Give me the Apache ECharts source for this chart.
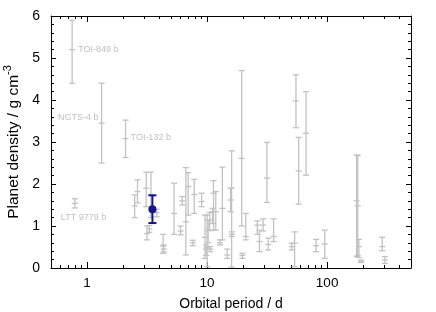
<!DOCTYPE html>
<html><head><meta charset="utf-8">
<script src="https://cdn.jsdelivr.net/npm/echarts@6/dist/echarts.min.js"></script>
<style>html,body{margin:0;padding:0;background:#fff}#c{width:436px;height:312px}</style>
</head><body><div id="c"></div>
<script>
// Orbital periods (d) of comparison planets
const periods   = [0.75, 1.32, 2.09, 0.79, 2.49, 2.63, 3.11, 3.4, 3.15, 3.3, 3.8, 4.3, 4.35, 5.3, 6.0, 6.2, 6.65, 6.95, 7.6, 7.8,
                   9.0, 9.6, 9.8, 10.0, 10.2, 10.5, 10.6, 11.1, 11.3, 11.8, 12.8, 13.4, 14.7, 15.7, 16.0, 16.1, 19.4, 19.7, 21.0, 26.2,
                   27.3, 29.3, 31.5, 32.3, 35.8, 50.8, 53.6, 55, 57.9, 66.7, 81, 95.5, 176, 180, 184, 192, 288, 303];
// Densities (g cm^-3)
const densities = [5.2, 3.45, 3.08, 1.54, 1.48, 1.82, 1.9, 1.75, 0.82, 0.93, 1.32, 0.52, 0.45, 1.3, 0.88, 1.6, 1.1, 1.94, 0.6, 1.75,
                   1.58, 0.73, 0.45, 0.49, 0.9, 1.14, 0.45, 1.34, 1.78, 1.34, 0.6, 1.42, 0.31, 1.62, 1.9, 0.8, 2.61, 0.3, 0.75, 1.02,
                   0.63, 1.02, 2.14, 0.56, 0.75, 0.51, 0.59, 3.98, 2.31, 3.21, 0.53, 0.57, 1.6, 1.48, 0.51, 0.16, 0.51, 0.19];
const densLow   = [4.4, 2.5, 2.63, 1.43, 1.2, 1.55, 1.46, 1.2, 0.67, 0.85, 1.22, 0.35, 0.38, 0.8, 0.79, 1.5, 0.31, 1.26, 0.53, 1.3,
                   1.46, 0.23, 0.3, 0.03, 0.6, 0.89, 0.39, 1.06, 0.9, 0.9, 0.55, 0.67, 0.23, 1.34, 0.02, 0.75, 1.0, 0.23, 0.67, 0.8,
                   0.39, 0.88, 1.56, 0.43, 0.63, 0.43, 0.03, 3.34, 1.52, 2.21, 0.39, 0.23, 0.27, 0.3, 0.25, 0.13, 0.41, 0.11];
const densHigh  = [5.9, 4.4, 3.52, 1.65, 1.74, 2.1, 2.28, 2.28, 1.0, 1.01, 1.4, 0.8, 0.55, 2.02, 1.0, 1.7, 2.39, 2.27, 0.66, 2.11,
                   1.78, 1.26, 0.55, 1.26, 1.14, 1.32, 0.51, 1.42, 2.08, 1.82, 0.67, 2.4, 0.45, 1.9, 2.79, 0.86, 4.7, 0.35, 1.3, 1.12,
                   0.9, 1.17, 2.99, 0.71, 1.17, 0.59, 0.86, 4.6, 3.11, 4.2, 0.68, 0.9, 2.69, 2.68, 0.68, 0.19, 0.73, 0.27];
// Named planets (index into the arrays above)
const labelNames = ['TOI-849 b', 'NGTS-4 b', 'TOI-132 b', 'LTT 9779 b'];
const labelIndex = [0, 1, 2, 3];
// Highlighted planet
const targetPeriod = [3.5];
const targetDensity = [1.40];
const targetLow = [1.07];
const targetHigh = [1.73];
// Axis ticks
const xMajorTicks = [1, 10, 100];
const xMinorTicks = [0.5, 0.6, 0.7, 0.8, 0.9, 2, 3, 4, 5, 6, 7, 8, 9, 20, 30, 40, 50, 60, 70, 80, 90, 200, 300, 400, 500];

const labelPlacement = [
  {dx: 6, dy: 0, align: 'left'},
  {dx: -3, dy: -6, align: 'right'},
  {dx: 5, dy: -1, align: 'left'},
  {dx: -14, dy: 14, align: 'left'}
];

const grayData = periods.map((p, i) => [p, densities[i], densLow[i], densHigh[i]]);
const blueData = targetPeriod.map((p, i) => [p, targetDensity[i], targetLow[i], targetHigh[i]]);
const labelData = labelIndex.map((k, i) => [periods[k], densities[k], i]);

function errRender(color, lw, capHalf, centerDash) {
  return function (params, api) {
    const x = api.value(0), y = api.value(1), lo = api.value(2), hi = api.value(3);
    const pc = api.coord([x, y]), pl = api.coord([x, lo]), ph = api.coord([x, hi]);
    const style = {stroke: color, lineWidth: lw, fill: null};
    const ch = [
      {type: 'line', shape: {x1: pl[0], y1: pl[1], x2: ph[0], y2: ph[1]}, style},
      {type: 'line', shape: {x1: pl[0] - capHalf, y1: pl[1], x2: pl[0] + capHalf, y2: pl[1]}, style},
      {type: 'line', shape: {x1: ph[0] - capHalf, y1: ph[1], x2: ph[0] + capHalf, y2: ph[1]}, style}
    ];
    if (centerDash) ch.push({type: 'line', shape: {x1: pc[0] - capHalf, y1: pc[1], x2: pc[0] + capHalf, y2: pc[1]}, style});
    return {type: 'group', children: ch};
  };
}

const font = 'Liberation Sans, Arial, Helvetica, sans-serif';
const logAxisBase = {type: 'log', logBase: 10, min: 0.5, max: 500, gridIndex: 0, splitLine: {show: false}};

const chart = echarts.init(document.getElementById('c'), null, {renderer: 'canvas'});
chart.setOption({
  animation: false,
  backgroundColor: '#fff',
  grid: {left: 51, right: 25, top: 16, bottom: 44, containLabel: false, outerBoundsMode: 'none'},
  xAxis: [
    Object.assign({}, logAxisBase, {
      position: 'bottom',
      axisLine: {show: true, onZero: false, lineStyle: {color: '#000', width: 1}},
      axisTick: {show: true, inside: true, length: 6, customValues: xMajorTicks, lineStyle: {color: '#000'}},
      axisLabel: {show: true, customValues: xMajorTicks, color: '#000', fontSize: 13.5, fontFamily: font, margin: 8,
                  formatter: v => String(Math.round(v))},
      name: 'Orbital period / d', nameLocation: 'middle', nameGap: 29,
      nameTextStyle: {color: '#000', fontSize: 14, fontFamily: font}
    }),
    Object.assign({}, logAxisBase, {
      position: 'bottom',
      axisLine: {show: false, onZero: false},
      axisTick: {show: true, inside: true, length: 3, customValues: xMinorTicks, lineStyle: {color: '#000'}},
      axisLabel: {show: false}
    }),
    Object.assign({}, logAxisBase, {
      position: 'top',
      axisLine: {show: true, onZero: false, lineStyle: {color: '#000', width: 1}},
      axisTick: {show: true, inside: true, length: 6, customValues: xMajorTicks, lineStyle: {color: '#000'}},
      axisLabel: {show: false}
    }),
    Object.assign({}, logAxisBase, {
      position: 'top',
      axisLine: {show: false, onZero: false},
      axisTick: {show: true, inside: true, length: 3, customValues: xMinorTicks, lineStyle: {color: '#000'}},
      axisLabel: {show: false}
    })
  ],
  yAxis: [
    {
      type: 'value', min: 0, max: 6, interval: 1, position: 'left',
      axisLine: {show: true, onZero: false, lineStyle: {color: '#000', width: 1}},
      axisTick: {show: true, inside: true, length: 5, lineStyle: {color: '#000'}},
      minorTick: {show: true, splitNumber: 5, length: 3, lineStyle: {color: '#000'}},
      axisLabel: {color: '#000', fontSize: 14, fontFamily: font, margin: 11},
      splitLine: {show: false},
      name: '{a|Planet density / g cm}{s|-3}', nameLocation: 'middle', nameGap: 26, nameRotate: 90,
      nameTextStyle: {color: '#000', fontSize: 15.5, fontFamily: font,
        rich: {a: {fontSize: 15.5, fontFamily: font, color: '#000'},
               s: {fontSize: 11, fontFamily: font, color: '#000', padding: [0, 0, 10, 0]}}}
    },
    {
      type: 'value', min: 0, max: 6, interval: 1, position: 'right',
      axisLine: {show: true, onZero: false, lineStyle: {color: '#000', width: 1}},
      axisTick: {show: true, inside: true, length: 5, lineStyle: {color: '#000'}},
      minorTick: {show: true, splitNumber: 5, length: 3, lineStyle: {color: '#000'}},
      axisLabel: {show: false},
      splitLine: {show: false}
    }
  ],
  series: [
    {
      type: 'custom', xAxisIndex: 0, yAxisIndex: 0, data: grayData,
      encode: {x: 0, y: [1, 2, 3]},
      renderItem: errRender('#c2c2c2', 1.3, 3, true), z: 2, silent: true
    },
    {
      type: 'custom', xAxisIndex: 0, yAxisIndex: 0, data: labelData,
      encode: {x: 0, y: 1},
      renderItem: function (params, api) {
        const c = api.coord([api.value(0), api.value(1)]);
        const pl = labelPlacement[api.value(2)];
        return {type: 'text', x: c[0] + pl.dx, y: c[1] + pl.dy,
          style: {text: labelNames[api.value(2)], fill: '#c2c2c2', fontSize: 9, fontFamily: font,
                  align: pl.align, verticalAlign: 'middle'}};
      }, z: 3, silent: true
    },
    {
      type: 'custom', xAxisIndex: 0, yAxisIndex: 0, data: blueData,
      encode: {x: 0, y: [1, 2, 3]},
      renderItem: errRender('#16168a', 2, 4, false), z: 5, silent: true
    },
    {
      type: 'scatter', xAxisIndex: 0, yAxisIndex: 0, data: blueData.map(d => [d[0], d[1]]),
      symbol: 'circle', symbolSize: 8, itemStyle: {color: '#16168a', opacity: 1}, z: 6, silent: true
    }
  ]
});
</script>
</body></html>
